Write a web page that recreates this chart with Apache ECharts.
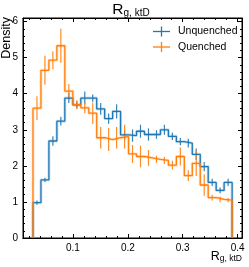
<!DOCTYPE html>
<html><head><meta charset="utf-8">
<script src="https://cdn.jsdelivr.net/npm/echarts@6/dist/echarts.min.js"></script>
<style>html,body{margin:0;padding:0;background:#fff}#c{width:249px;height:267px}</style>
</head><body><div id="c"></div>
<script>
const binEdges = [0.0272,0.0417,0.0562,0.0707,0.0852,0.0998,0.1143,0.1288,0.1433,0.1578,0.1723,0.1868,0.2013,0.2158,0.2303,0.2449,0.2594,0.2739,0.2884,0.3029,0.3174,0.3319,0.3464,0.3609,0.3754,0.3900];
const unquenched = [0.98,1.61,2.69,3.24,3.88,3.69,3.88,3.88,3.58,3.31,3.51,2.86,2.84,2.96,2.87,2.87,3.00,2.82,2.67,2.63,2.32,1.98,1.54,1.32,1.54];
const unquenchedErr = [0.06,0.06,0.13,0.12,0.14,0.10,0.18,0.10,0.16,0.14,0.20,0.14,0.17,0.18,0.17,0.12,0.14,0.10,0.10,0.12,0.16,0.13,0.10,0.08,0.10];
const quenched = [3.60,4.65,4.93,5.33,4.07,3.70,3.61,3.46,2.78,2.73,2.78,2.81,2.33,2.26,2.22,2.18,2.15,2.02,2.26,1.73,2.07,1.47,1.12,1.07,1.05];
const quenchedErr = [0.33,0.40,0.25,0.47,0.20,0.12,0.15,0.30,0.30,0.32,0.30,0.33,0.25,0.30,0.22,0.10,0.10,0.12,0.25,0.15,0.35,0.30,0.08,0.08,0.06];
const xMajorTicks = [0.1,0.2,0.3,0.4];
const xMinorTicks = [0.02,0.04,0.06,0.08,0.12,0.14,0.16,0.18,0.22,0.24,0.26,0.28,0.32,0.34,0.36,0.38];
const seriesNames = ['Unquenched','Quenched'];
const colors = ['#1f77b4','#ff7f0e'];

const XMIN = 0.009, XMAX = 0.408, YMIN = 0, YMAX = 6.1;

function stepPoints(vals){
  const pts = [[binEdges[0],0]];
  for(let i=0;i<vals.length;i++){ pts.push([binEdges[i],vals[i]]); pts.push([binEdges[i+1],vals[i]]); }
  pts.push([binEdges[vals.length],0]);
  return pts;
}
function errData(vals, errs){
  return vals.map((v,i)=>[(binEdges[i]+binEdges[i+1])/2, v, errs[i]]);
}
function stepSeries(vals,color,name){
  return [
    {type:'line',name:name+'_halo',data:stepPoints(vals),showSymbol:false,silent:true,animation:false,
     lineStyle:{color:color,width:3,opacity:0.22}},
    {type:'line',name:name,data:stepPoints(vals),showSymbol:false,silent:true,animation:false,
     lineStyle:{color:color,width:1.3}}
  ];
}
function errSeries(vals,errs,color){
  return {type:'custom',data:errData(vals,errs),animation:false,silent:true,
    renderItem:function(params,api){
      const c=api.value(0),v=api.value(1),e=api.value(2);
      const p1=api.coord([c,v-e]),p2=api.coord([c,v+e]);
      return {type:'line',shape:{x1:p1[0],y1:p1[1],x2:p2[0],y2:p2[1]},style:{stroke:color,lineWidth:1.2,opacity:0.9}};
    }};
}
const axisFont = {fontFamily:'Liberation Sans',fontSize:10,color:'#000'};
function xAx(pos,vals,len,labels){
  return {type:'value',min:XMIN,max:XMAX,position:pos,
    axisLine:{show:true,lineStyle:{color:'#000',width:1}},
    axisTick:{show:true,inside:true,length:len,customValues:vals,lineStyle:{color:'#000',width:1}},
    axisLabel:labels?Object.assign({show:true,customValues:vals,margin:5,formatter:v=>String(v)},axisFont):{show:false},
    splitLine:{show:false}};
}
function yAx(pos,labels){
  return {type:'value',min:YMIN,max:YMAX,interval:1,position:pos,
    axisLine:{show:true,lineStyle:{color:'#000',width:1}},
    axisTick:{show:true,inside:true,length:4,lineStyle:{color:'#000',width:1}},
    minorTick:{show:true,splitNumber:5,length:2,lineStyle:{color:'#000',width:1}},
    axisLabel:labels?Object.assign({show:true,margin:5,showMaxLabel:false},axisFont):{show:false},
    splitLine:{show:false}};
}

const chart = echarts.init(document.getElementById('c'),null,{renderer:'canvas'});
const series = [];
series.push(...stepSeries(unquenched,colors[0],seriesNames[0]));
series.push(errSeries(unquenched,unquenchedErr,colors[0]));
series.push(...stepSeries(quenched,colors[1],seriesNames[1]));
series.push(errSeries(quenched,quenchedErr,colors[1]));

const legendItems = [];
seriesNames.forEach((n,i)=>{
  const y = 31.5 + i*15.5;
  legendItems.push({type:'line',shape:{x1:153,y1:y,x2:170,y2:y},style:{stroke:colors[i],lineWidth:1.3}});
  legendItems.push({type:'line',shape:{x1:161.5,y1:y-5,x2:161.5,y2:y+5},style:{stroke:colors[i],lineWidth:1.3}});
  legendItems.push({type:'text',x:178,y:y,style:{text:n,fontFamily:'Liberation Sans',fontSize:10.5,fill:'#000',verticalAlign:'middle'}});
});

chart.setOption({
  animation:false,
  grid:{left:23,right:7,top:18,bottom:29,show:true,borderColor:'#000',borderWidth:1,containLabel:false},
  xAxis:[xAx('bottom',xMajorTicks,4,true),xAx('bottom',xMinorTicks,2,false),xAx('top',xMajorTicks,4,false),xAx('top',xMinorTicks,2,false)],
  yAxis:[yAx('left',true),yAx('right',false)],
  series:series.map(s=>Object.assign({xAxisIndex:0,yAxisIndex:0},s)),
  graphic:[
    {type:'text',x:131,y:10,style:{text:'{r|R}{s|g, ktD}',align:'center',verticalAlign:'middle',
      rich:{r:{fontFamily:'Liberation Sans',fontSize:15.5,fill:'#000',verticalAlign:'bottom'},s:{fontFamily:'Liberation Sans',fontSize:10,fill:'#000',verticalAlign:'bottom',padding:[5,0,0,0]}}}},
    {type:'text',x:242,y:257,style:{text:'{r|R}{s|g, ktD}',align:'right',verticalAlign:'middle',
      rich:{r:{fontFamily:'Liberation Sans',fontSize:12.5,fill:'#000',verticalAlign:'bottom'},s:{fontFamily:'Liberation Sans',fontSize:8.5,fill:'#000',verticalAlign:'bottom',padding:[3,0,0,0]}}}},
    {type:'text',x:7,y:17,rotation:Math.PI/2,style:{text:'Density',align:'right',verticalAlign:'middle',fontFamily:'Liberation Sans',fontSize:12.5,fill:'#000'}},
    ...legendItems
  ]
});
</script></body></html>
